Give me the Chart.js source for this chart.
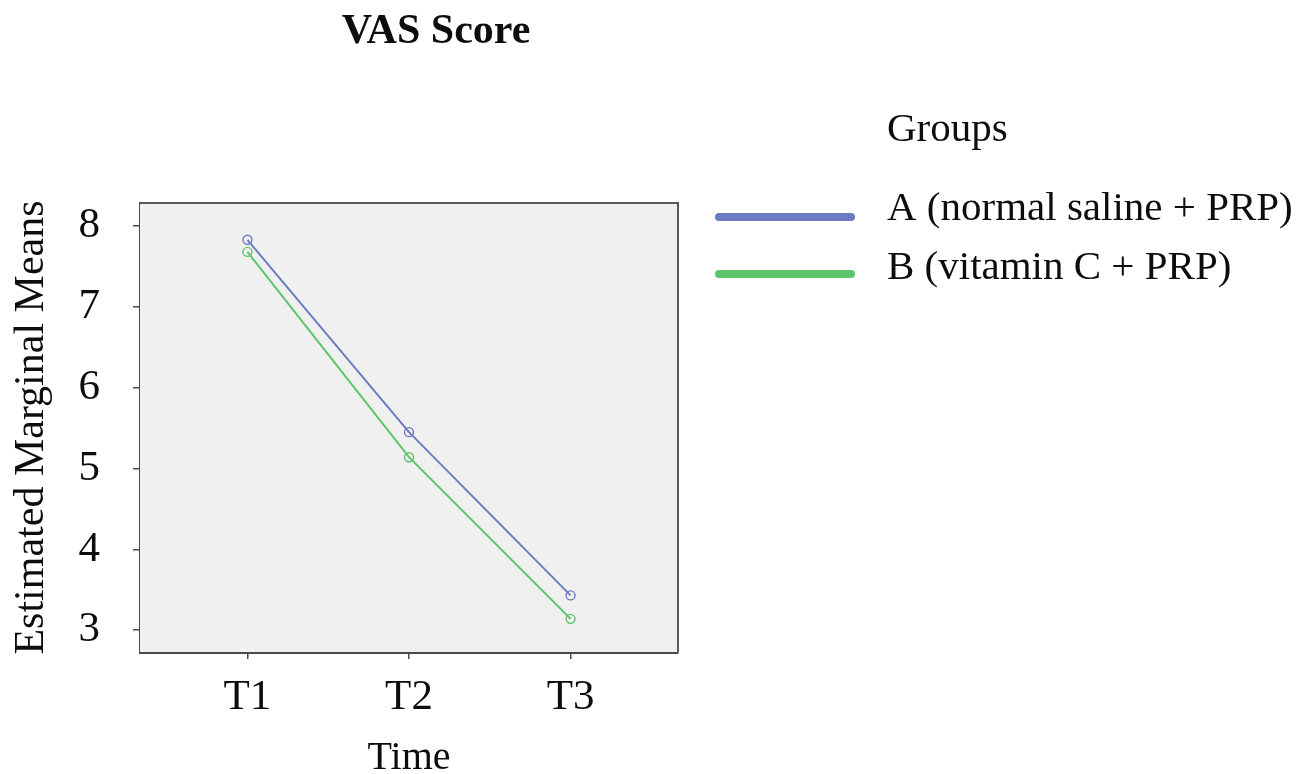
<!DOCTYPE html>
<html>
<head>
<meta charset="utf-8">
<script src="https://cdn.jsdelivr.net/npm/chart.js@4/dist/chart.umd.min.js"></script>
<style>
  html, body { margin: 0; padding: 0; background: #ffffff; }
  #wrap { width: 1307px; height: 774px; position: relative; }
</style>
</head>
<body>
<div id="wrap"><canvas id="c" width="1307" height="774"></canvas></div>
<script>
// Estimated marginal means of the VAS score at each time point
const categories = ['T1', 'T2', 'T3'];
const groupA = [7.83, 5.45, 3.43];
const groupB = [7.68, 5.14, 3.14];
const yTicks = [3, 4, 5, 6, 7, 8];
const seriesNames = ['A (normal saline + PRP)', 'B (vitamin C + PRP)'];
const seriesColors = ['#6b7cc2', '#5ec56c'];
const chartTitle = 'VAS Score';
const legendTitle = 'Groups';
const xTitle = 'Time';
const yTitle = 'Estimated Marginal Means';

const SERIF = '"Liberation Serif", "Times New Roman", serif';
const ink = '#0d0d0d';
const frame = '#4a4a4a';

const toPoints = vals => vals.map((v, i) => ({ x: i, y: v }));

// Plot background and frame, chart heading, and the group legend
const decor = {
  id: 'decor',
  beforeDatasetsDraw(chart) {
    const { ctx, chartArea: a } = chart;
    ctx.save();
    ctx.fillStyle = '#f0f0f0';
    ctx.fillRect(a.left, a.top, a.right - a.left, a.bottom - a.top);
    ctx.restore();
  },
  afterDatasetsDraw(chart) {
    const { ctx, chartArea: a } = chart;
    ctx.save();
    ctx.strokeStyle = '#5a5a5a';
    ctx.lineWidth = 2;
    ctx.beginPath();
    ctx.moveTo(a.left, a.top);
    ctx.lineTo(a.right, a.top);
    ctx.lineTo(a.right, a.bottom);
    ctx.stroke();
    ctx.restore();
  },
  afterDraw(chart) {
    const { ctx } = chart;
    ctx.save();
    ctx.fillStyle = ink;
    ctx.textBaseline = 'middle';
    ctx.textAlign = 'center';
    ctx.font = 'bold 42px ' + SERIF;
    ctx.fillText(chartTitle, 436, 32);

    ctx.textAlign = 'left';
    ctx.font = '41px ' + SERIF;
    ctx.fillText(legendTitle, 887, 130);

    const rowsText = [209, 268];
    const rowsLine = [217, 274];
    chart.data.datasets.forEach((ds, i) => {
      ctx.strokeStyle = ds.borderColor;
      ctx.lineWidth = 8;
      ctx.lineCap = 'round';
      ctx.beginPath();
      ctx.moveTo(719, rowsLine[i]);
      ctx.lineTo(851, rowsLine[i]);
      ctx.stroke();
      ctx.fillStyle = ink;
      ctx.fillText(ds.label, 887, rowsText[i]);
    });
    ctx.restore();
  }
};

new Chart(document.getElementById('c'), {
  type: 'line',
  data: {
    datasets: [groupA, groupB].map((vals, i) => ({
      label: seriesNames[i],
      data: toPoints(vals),
      borderColor: seriesColors[i],
      backgroundColor: 'rgba(0,0,0,0)',
      borderWidth: 2,
      pointRadius: 4.5,
      pointBorderWidth: 1.4,
      pointBackgroundColor: 'rgba(0,0,0,0)',
      pointBorderColor: seriesColors[i],
      tension: 0
    }))
  },
  options: {
    responsive: false,
    animation: false,
    events: [],
    layout: { padding: { left: 0, top: 203, right: 629, bottom: 0 } },
    plugins: {
      legend: { display: false },
      title: { display: false },
      tooltip: { enabled: false }
    },
    scales: {
      x: {
        type: 'linear',
        min: -0.665,
        max: 2.665,
        afterBuildTicks: s => { s.ticks = categories.map((c, i) => ({ value: i })); },
        afterFit: s => { s.height = 122; },
        ticks: {
          callback: v => categories[v],
          color: ink,
          font: { family: SERIF, size: 43 },
          padding: 13,
          maxRotation: 0
        },
        grid: { drawOnChartArea: false, drawTicks: true, tickLength: 7, color: frame, lineWidth: 1.5 },
        border: { display: true, color: frame, width: 3 },
        title: {
          display: true,
          text: xTitle,
          color: ink,
          font: { family: SERIF, size: 40, lineHeight: 0.8 },
          padding: 0
        }
      },
      y: {
        type: 'linear',
        min: 2.73,
        max: 8.285,
        afterBuildTicks: s => { s.ticks = yTicks.map(v => ({ value: v })); },
        afterFit: s => { s.width = 140; },
        ticks: {
          color: ink,
          font: { family: SERIF, size: 43 },
          padding: 33
        },
        grid: { drawOnChartArea: false, drawTicks: true, tickLength: 7, color: frame, lineWidth: 1.5 },
        border: { display: true, color: frame, width: 3 },
        title: {
          display: true,
          text: yTitle,
          color: ink,
          font: { family: SERIF, size: 42, lineHeight: 1.2 },
          padding: { top: 7, bottom: 0 }
        }
      }
    }
  },
  plugins: [decor]
});
</script>
</body>
</html>
